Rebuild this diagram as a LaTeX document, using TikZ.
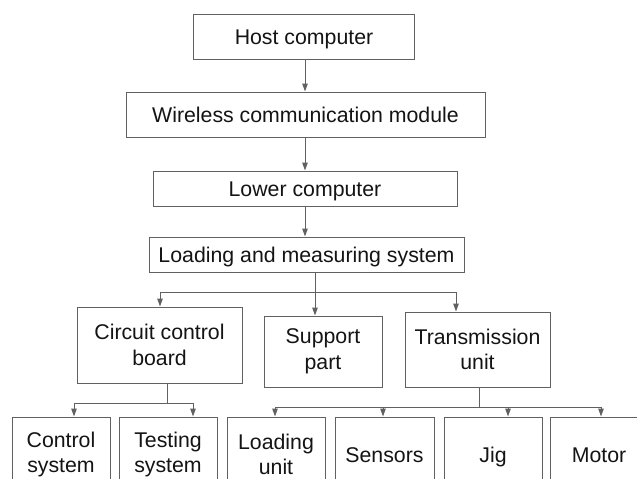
\documentclass[tikz,border=0pt]{standalone}
\usepackage{fontspec}
\setmainfont{Liberation Sans}
\usetikzlibrary{arrows.meta}

\tikzset{
  box/.style={draw=black!62, line width=1pt, fill=white, inner sep=0pt,
    align=center, text=black!92,
    font=\fontsize{21.3}{25.5}\selectfont},
  oneline/.style={box, text height=15pt, text depth=0pt},
  link/.style={draw=black!62, line width=1pt},
  arr/.style={link, -{Triangle[length=8pt,width=5.5pt]}},
}

\begin{document}
\begin{tikzpicture}[x=1pt,y=-1pt]
\useasboundingbox (0,0) rectangle (637,479);
\fill[white] (0,0) rectangle (637,479);
\clip (0,0) rectangle (637,479);

% main chain
\node[oneline, minimum width=221pt, minimum height=45pt] (host)  at (304,36.5)  {Host computer};
\node[oneline, minimum width=359pt, minimum height=45pt] (wcm)   at (305.5,114.5) {Wireless communication module};
\node[oneline, minimum width=304pt, minimum height=35pt] (lower) at (305,188.5) {Lower computer};
\node[oneline, minimum width=315pt, minimum height=35pt] (lms)   at (306.5,254.5) {Loading and measuring system};

% second level
\node[box, minimum width=165pt, minimum height=76pt] (ccb) at (159.5,345)   {Circuit control\\board};
\node[box, minimum width=118pt, minimum height=71pt] (sup) at (323,351.5)   {Support\\part};
\node[box, minimum width=145pt, minimum height=75pt] (tu)  at (477.5,349.5) {Transmission\\unit};

% third level (runs off the lower edge)
\node[box, minimum width=98pt, minimum height=75pt] (ctrl)  at (61,454.5)  {Control\\system};
\node[box, minimum width=98pt, minimum height=75pt] (test)  at (168,454.5) {Testing\\system};
\node[box, minimum width=98pt, minimum height=75pt] (lu)    at (276,454.5) {Loading\\unit};
\node[oneline, minimum width=99pt, minimum height=75pt] (sens)  at (384.5,454.5) {Sensors};
\node[oneline, minimum width=98pt, minimum height=75pt] (jig)   at (493,454.5) {Jig};
\node[oneline, minimum width=98pt, minimum height=75pt] (motor) at (599,454.5) {Motor};

% chain arrows
\coordinate (cx) at (305,0);
\draw[arr] (host.south -| cx)  -- (wcm.north -| cx);
\draw[arr] (wcm.south -| cx)   -- (lower.north -| cx);
\draw[arr] (lower.south -| cx) -- (lms.north -| cx);

% loading and measuring system branches
\coordinate (lmj) at (315,292);
\coordinate (lml) at (160,292);
\coordinate (lmr) at (456,292);
\draw[arr] (lms.south -| lmj) -- (sup.north -| lmj);
\draw[link] (lml) -- (lmr);
\draw[arr] (lml) -- (ccb.north -| lml);
\draw[arr] (lmr) -- (tu.north -| lmr);

% circuit control board branches
\coordinate (cj) at (167,403);
\coordinate (cl) at (74,403);
\coordinate (cr) at (193,403);
\draw[link] (ccb.south -| cj) -- (cj);
\draw[link] (cl) -- (cr);
\draw[arr] (cl) -- (ctrl.north -| cl);
\draw[arr] (cr) -- (test.north -| cr);

% transmission unit branches
\coordinate (tj) at (479,407);
\coordinate (t1) at (275,407);
\coordinate (t2) at (383,407);
\coordinate (t3) at (508,407);
\coordinate (t4) at (601,407);
\draw[link] (tu.south -| tj) -- (tj);
\draw[link] (t1) -- (t4);
\draw[arr] (t1) -- (lu.north -| t1);
\draw[arr] (t2) -- (sens.north -| t2);
\draw[arr] (t3) -- (jig.north -| t3);
\draw[arr] (t4) -- (motor.north -| t4);
\end{tikzpicture}
\end{document}
